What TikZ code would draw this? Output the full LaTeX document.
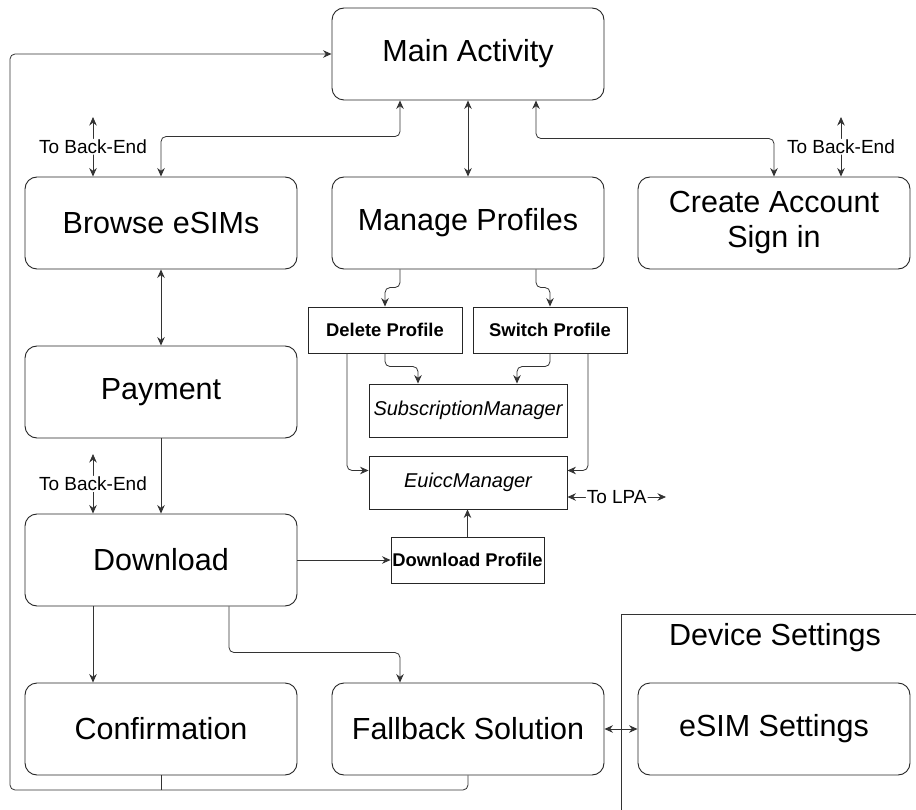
\documentclass[tikz,border=0pt]{standalone}
\usepackage{fontspec}
\setmainfont{Liberation Sans}
\usetikzlibrary{arrows.meta,calc}
\begin{document}
\begin{tikzpicture}[x=1pt,y=-1pt,
  screen/.style={draw=black!85, line width=0.9pt, rounded corners=12pt,
    minimum width=272pt, minimum height=92pt, inner sep=0pt, align=center,
    font=\fontsize{30.5}{35}\selectfont},
  apibox/.style={draw=black!85, line width=0.9pt, minimum width=154pt,
    minimum height=46pt, inner sep=0pt, font=\bfseries\fontsize{18.4}{22}\selectfont},
  mgrbox/.style={draw=black!85, line width=0.9pt, minimum width=198pt,
    minimum height=53pt, inner sep=0pt, font=\itshape\fontsize{20}{24}\selectfont},
  tip/.tip={Stealth[length=8.5pt,width=7.5pt]},
  link/.style={draw=black!80, line width=0.8pt, rounded corners=5pt, -tip},
  both/.style={link, tip-tip},
  tag/.style={fill=white, inner sep=1pt, font=\fontsize{19}{22}\selectfont}
]
\fill[white] (0,0) rectangle (916,810);
\useasboundingbox (0,0) rectangle (916,810);

% Device settings container (runs off the page edge)
\draw[draw=black!80, line width=0.9pt] (916,614) -- (621,614) -- (621,810);
\node[font=\fontsize{30.5}{35}\selectfont] (devset) at (775,638) {Device Settings};

% App screens
\node[screen] (main)     at (468,54)  {Main Activity};
\node[screen] (browse)   at (161,223) {Browse eSIMs};
\node[screen] (manage)   at (468,223) {Manage Profiles};
\node[screen] (create)   at (774,223) {Create Account\\Sign in};
\node[screen] (payment)  at (161,392) {Payment};
\node[screen] (download) at (161,560) {Download};
\node[screen] (confirm)  at (161,729) {Confirmation};
\node[screen] (fallback) at (468,729) {Fallback Solution};
\node[screen] (esim)     at (774,729) {eSIM Settings};

% API calls and system managers
\node[apibox] (delete) at (385,330) {Delete Profile};
\node[apibox] (switch) at (550,330) {Switch Profile};
\node[apibox, minimum width=153pt] (dlp) at (467.5,560) {Download Profile};
\node[mgrbox] (subs)  at (468,410.5) {SubscriptionManager};
\node[mgrbox] (euicc) at (468,482.5) {EuiccManager};

% Main activity links
\draw[both] ($(main.south)+(-68,0)$) |- ($(browse.north)+(0,-40)$) -- (browse.north);
\draw[both] (main.south) -- (manage.north);
\draw[both] ($(main.south)+(68,0)$) |- ($(create.north)+(0,-38)$) -- (create.north);

% Back-end links
\coordinate (be1) at (93,117);
\coordinate (be2) at (841,117);
\coordinate (be3) at (93,454);
\draw[both] (be1) -- node[tag] {To Back-End} (be1 |- browse.north);
\draw[both] (be2) -- node[tag] {To Back-End} (be2 |- create.north);
\draw[both] (be3) -- node[tag] {To Back-End} (be3 |- download.north);

% Purchase flow
\draw[both] (browse.south) -- (payment.north);
\draw[link] (payment.south) -- (download.north);
\draw[link] ($(download.south)+(-68,0)$) -- ($(confirm.north)+(-68,0)$);
\draw[link] ($(download.south)+(68,0)$) |- ($(fallback.north)+(-68,-30)$) -- ($(fallback.north)+(-68,0)$);
\draw[link] (download.east) -- (dlp.west);
\draw[both] (fallback.east) -- (esim.west);

% Return to main activity
\coordinate (loop) at (10,790);
\draw[link] (fallback.south) |- (loop) |- (main.west);
\draw[link, -] (confirm.south) -- (confirm.south |- loop);

% Profile management
\draw[link] ($(manage.south)+(-68,0)$) |- ($(delete.north)+(0,-19)$) -- (delete.north);
\draw[link] ($(manage.south)+(68,0)$) |- ($(switch.north)+(0,-19)$) -- (switch.north);
\draw[link] (delete.south) |- ($(subs.north)+(-50,-17)$) -- ($(subs.north)+(-50,0)$);
\draw[link] (switch.south) |- ($(subs.north)+(49,-17)$) -- ($(subs.north)+(49,0)$);
\draw[link] ($(delete.south)+(-38,0)$) |- ($(euicc.west)+(0,-12)$);
\draw[link] ($(switch.south)+(38,0)$) |- ($(euicc.east)+(0,-12)$);
\draw[link] (dlp.north) -- (dlp.north |- euicc.south);

% Local profile assistant
\coordinate (lpa) at (666,497);
\draw[both] (euicc.east |- lpa) -- node[tag] {To LPA} (lpa);
\end{tikzpicture}
\end{document}
